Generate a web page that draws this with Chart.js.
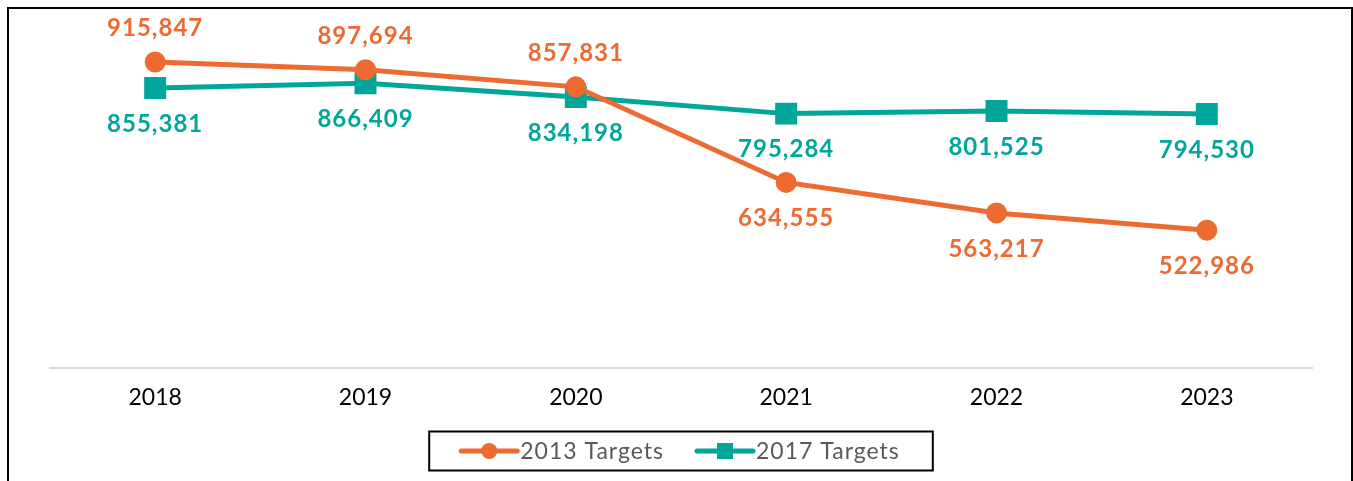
<!DOCTYPE html>
<html>
<head>
<meta charset="utf-8">
<script src="https://cdn.jsdelivr.net/npm/chart.js@4/dist/chart.umd.min.js"></script>
<style>
  html, body { margin: 0; padding: 0; background: #fff; overflow: hidden; }
  #frame { position: absolute; left: 7px; top: 7px; width: 1342px; height: 490px; border: 2px solid #000; }
  #myChart { position: absolute; left: 0; top: 0; }
</style>
</head>
<body>
<div id="frame"></div>
<canvas id="myChart" width="1353" height="481"></canvas>
<script>
var years = ['2018', '2019', '2020', '2021', '2022', '2023'];
var targets2013 = [915847, 897694, 857831, 634555, 563217, 522986];
var targets2017 = [855381, 866409, 834198, 795284, 801525, 794530];

var ORANGE = '#ED6A31';
var TEAL = '#00A69A';
var FONT = 'Lato, "Open Sans", sans-serif';

// value labels next to each point
var valueLabels = {
  id: 'valueLabels',
  afterDatasetsDraw: function (chart) {
    var ctx = chart.ctx;
    ctx.save();
    ctx.font = 'bold 24px ' + FONT;
    ctx.letterSpacing = '1px';
    ctx.textAlign = 'center';
    ctx.textBaseline = 'middle';
    chart.data.datasets.forEach(function (ds, di) {
      var meta = chart.getDatasetMeta(di);
      meta.data.forEach(function (pt, i) {
        var other = chart.data.datasets[1 - di].data[i];
        var above = di === 0 && ds.data[i] > other;
        var dy = above ? -34 : 36;
        ctx.fillStyle = ds.borderColor;
        ctx.fillText(ds.data[i].toLocaleString('en-US'), pt.x, pt.y + dy);
      });
    });
    ctx.restore();
  }
};

// boxed legend with line + marker swatches
var boxLegend = {
  id: 'boxLegend',
  afterDraw: function (chart) {
    var ctx = chart.ctx;
    var area = chart.chartArea;
    ctx.save();
    ctx.font = '23px ' + FONT;
    ctx.letterSpacing = '1px';
    var items = chart.data.datasets.map(function (ds) {
      return { ds: ds, w: 60 + ctx.measureText(ds.label).width };
    });
    var gap = 32;
    var total = items.reduce(function (s, it) { return s + it.w; }, 0) + gap * (items.length - 1);
    var cx = (area.left + area.right) / 2;
    var y = 451;
    var boxW = total + 64, boxH = 39;
    ctx.strokeStyle = '#000';
    ctx.lineWidth = 2;
    ctx.strokeRect(cx - boxW / 2, y - boxH / 2, boxW, boxH);
    var x = cx - total / 2;
    items.forEach(function (it) {
      var ds = it.ds;
      ctx.strokeStyle = ds.borderColor;
      ctx.lineWidth = 5;
      ctx.lineCap = 'round';
      ctx.beginPath();
      ctx.moveTo(x, y);
      ctx.lineTo(x + 56, y);
      ctx.stroke();
      ctx.fillStyle = ds.borderColor;
      if (ds.pointStyle === 'rect') {
        ctx.fillRect(x + 28 - 8, y - 8, 16, 16);
      } else {
        ctx.beginPath();
        ctx.arc(x + 28, y, 8, 0, Math.PI * 2);
        ctx.fill();
      }
      ctx.fillStyle = '#595959';
      ctx.textAlign = 'left';
      ctx.textBaseline = 'middle';
      ctx.fillText(ds.label, x + 59, y + 1);
      x += it.w + gap;
    });
    ctx.restore();
  }
};

var ctx = document.getElementById('myChart').getContext('2d');
var myChart = new Chart(ctx, {
  type: 'line',
  data: {
    labels: years,
    datasets: [
      {
        label: '2013 Targets',
        data: targets2013,
        borderColor: ORANGE,
        backgroundColor: ORANGE,
        borderWidth: 5,
        pointStyle: 'circle',
        pointRadius: 8,
        pointHoverRadius: 8,
        tension: 0
      },
      {
        label: '2017 Targets',
        data: targets2017,
        borderColor: TEAL,
        backgroundColor: TEAL,
        borderWidth: 5,
        pointStyle: 'rect',
        pointRadius: 12,
        pointHoverRadius: 12,
        tension: 0
      }
    ]
  },
  options: {
    responsive: false,
    animation: false,
    devicePixelRatio: 1,
    layout: { padding: { left: 50, right: 41, top: 26, bottom: 63 } },
    plugins: {
      legend: { display: false },
      tooltip: { enabled: false }
    },
    scales: {
      x: {
        offset: true,
        grid: { display: false },
        border: { display: true, color: '#D9D9D9', width: 2 },
        ticks: { color: '#000', font: { family: FONT, size: 23 }, padding: 7 }
      },
      y: {
        display: false,
        min: 200000,
        max: 1000000
      }
    }
  },
  plugins: [valueLabels, boxLegend]
});
</script>
</body>
</html>
